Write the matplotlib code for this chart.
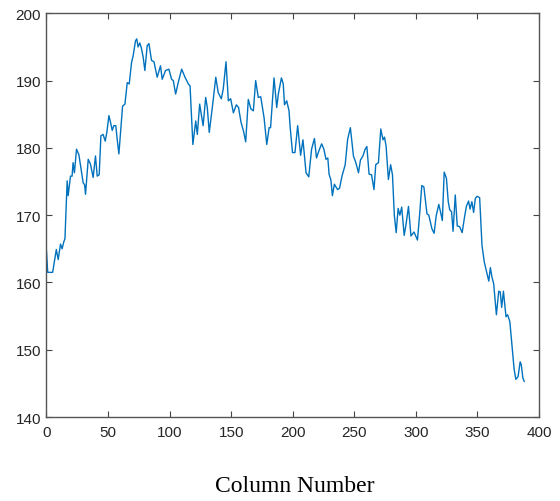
#!/usr/bin/env python3
# coding: utf-8

import matplotlib
matplotlib.use('Agg')
import matplotlib.pyplot as plt

# 读取自图片的曲线节点 (列号, 数值)
columns = [0, 1, 5, 8, 9.5, 11.4, 12.7, 14, 15, 16.8, 17.6, 19.5, 20.8, 21.6, 22.7, 24.4, 26.3, 28,
           29.8, 31, 31.7, 33.9, 35.7, 37.9, 39.8, 41.2, 42.8, 44.2, 46.0, 47.7, 49.0, 50.7, 52.0,
           53.4, 54.7, 56.3, 57.4, 58.8, 60, 61.8, 63.7, 65.6, 67.2, 69.1, 70.4, 72.3, 73.3, 74.4,
           75.8, 77.1, 78.5, 79.9, 81.8, 83.2, 85.3, 87.3, 89.9, 92.6, 94.0, 96.7, 99.4, 101.6, 103,
           104.9, 107.1, 109.8, 112.5, 115.2, 116.6, 118.9, 121.2, 122.5, 124.4, 127.2, 129.3, 130.6,
           132.2, 135, 137.5, 139.5, 142, 143.6, 145.8, 147.7, 149.6, 151.8, 154.2, 156, 158, 160,
           161.8, 163.9, 166, 168, 169.9, 172, 174, 176.7, 178.9, 180.8, 182, 184.8, 187, 188.3,
           190.8, 192.3, 193.3, 195.1, 197, 197.8, 199.8, 201.8, 204, 206.4, 208.3, 209.5, 210.8,
           213, 215.3, 217.6, 219.3, 221.3, 223.5, 225.3, 227, 228.5, 229.5, 231, 232.2, 233.8,
           236.4, 238, 240, 242.6, 244.6, 246.8, 249.3, 251.4, 253.4, 255, 257, 258.8, 260.2, 262,
           264, 266, 267.4, 269.6, 271.5, 273.3, 274.5, 275.8, 277.7, 279.5, 281, 282.5, 284,
           285.6, 287, 288.5, 290.5, 292, 294, 296, 298.5, 301.3, 303, 304.8, 306.5, 309, 310.5,
           313, 314.8, 316.5, 318.6, 320, 321.5, 323, 324.8, 326.3, 327.5, 329, 330.2, 332, 333.6,
           335.5, 337.6, 339.5, 341, 342.8, 344, 345.5, 346.9, 348.3, 349.7, 351.8, 353.7, 355.6,
           357.3, 359.2, 360.5, 361.8, 363.2, 365.4, 367.3, 368.5, 369.7, 371.1, 373.2, 374.5,
           376.3, 377.9, 379.8, 381.2, 383, 384.7, 385.6, 386.9, 388]
values = [164.7, 161.5, 161.5, 164.9, 163.4, 165.7, 165.0, 166.0, 166.5, 175.1, 172.9, 175.8, 175.8,
          177.8, 176.3, 179.8, 179.0, 177.0, 174.8, 174.5, 173.1, 178.3, 177.6, 175.6, 178.8, 175.8,
          176.0, 181.8, 182.0, 181.0, 182.3, 184.8, 183.8, 182.6, 183.3, 183.3, 181.3, 179.1, 182.0,
          186.2, 186.5, 189.7, 189.5, 192.7, 193.7, 195.9, 196.2, 195.0, 195.6, 194.8, 193.5, 191.5,
          195.2, 195.5, 193.0, 192.8, 190.5, 192.2, 190.2, 191.5, 191.7, 190.2, 190.0, 188.0, 189.8,
          191.7, 190.5, 189.5, 189.2, 180.5, 184.0, 182.0, 186.5, 183.3, 187.5, 186.0, 182.3, 186.5,
          190.5, 188.2, 187.3, 188.8, 192.8, 187.0, 187.3, 185.2, 186.4, 186.0, 183.8, 182.5, 180.9,
          187.2, 185.8, 185.5, 190.0, 187.5, 187.6, 184.5, 180.5, 183.0, 183.0, 190.4, 186.0, 188.0,
          190.4, 189.5, 186.4, 187.0, 185.5, 183.3, 179.3, 179.3, 183.3, 178.9, 181.2, 178.8, 176.3,
          175.7, 179.8, 181.4, 178.5, 179.6, 180.6, 179.8, 178.3, 178.5, 176.1, 175.2, 172.9, 174.6,
          173.8, 174.0, 175.8, 177.5, 181.3, 183.0, 178.8, 177.7, 176.3, 178.2, 178.8, 179.8, 180.2,
          176.1, 176.0, 173.8, 177.5, 177.8, 182.8, 181.2, 181.6, 180.3, 175.3, 177.5, 176.0, 170.0,
          167.4, 171.0, 170.0, 171.2, 167.0, 168.6, 171.3, 166.9, 167.5, 166.3, 170.0, 174.4, 174.2,
          170.2, 170.0, 168.0, 167.3, 169.9, 171.6, 170.5, 169.2, 176.4, 175.5, 172.0, 170.8, 170.5,
          167.6, 173.0, 168.4, 168.3, 167.4, 169.7, 171.3, 172.1, 170.9, 172.0, 170.4, 172.5, 172.8,
          172.6, 165.5, 163.0, 161.7, 160.2, 162.2, 160.8, 159.8, 155.2, 158.7, 158.6, 156.3, 158.7,
          154.9, 155.2, 154.2, 151.0, 147.1, 145.6, 146.0, 148.2, 147.8, 145.8, 145.3]

x_ticks = [0, 50, 100, 150, 200, 250, 300, 350, 400]
y_ticks = [140, 150, 160, 170, 180, 190, 200]

fig = plt.figure(figsize=(5.6, 5.02), dpi=100)
ax = fig.add_axes([0.083, 0.1673, 0.8795, 0.8042])

# 曲线
ax.plot(columns, values, color='#0072BD', linewidth=1.0)

ax.set_xlim(0, 400)
ax.set_ylim(140, 200)
ax.set_xticks(x_ticks)
ax.set_yticks(y_ticks)

# MATLAB 风格: 刻度向内, 四边都有
ax.tick_params(direction='in', length=4, width=0.8, top=True, right=True,
               colors='#444444', labelcolor='#262626', labelsize=11, pad=4)
ax.tick_params(axis='x', pad=6)
for lbl in ax.get_xticklabels() + ax.get_yticklabels():
    lbl.set_family('Liberation Sans')
for sp in ax.spines.values():
    sp.set_color('#555555')
    sp.set_linewidth(1.0)

fig.text(295 / 560, 1 - 487 / 502, 'Column Number', family='Liberation Serif',
         fontsize=17, ha='center', va='center', color='black')

plt.savefig('out.png', dpi=100)
